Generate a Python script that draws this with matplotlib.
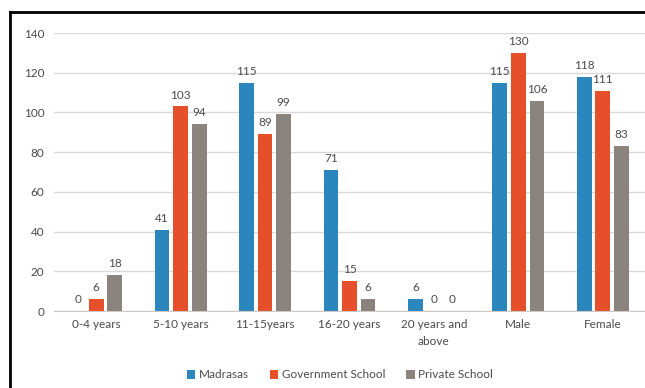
import numpy as np
import matplotlib.pyplot as plt
from matplotlib.lines import Line2D

plt.rcParams['font.family'] = ['Lato', 'DejaVu Sans']

# data
categories = ['0-4 years', '5-10 years', '11-15years', '16-20 years',
              '20 years and\nabove', 'Male', 'Female']
madrasas = [0, 41, 115, 71, 6, 115, 118]
government = [6, 103, 89, 15, 0, 130, 111]
private = [18, 94, 99, 6, 0, 106, 83]
series_names = ['Madrasas', 'Government School', 'Private School']
colors = ['#2a86bd', '#e5502a', '#8b837e']
yticks = [0, 20, 40, 60, 80, 100, 120, 140]

fig = plt.figure(figsize=(6.45, 3.88), dpi=100)
ax = fig.add_axes([54/645, 1 - 311/388, 1 - 54/645, (311 - 33)/388])

x = np.arange(len(categories))
width = 0.175
offsets = [-0.22, 0, 0.22]
text_color = '#4a4a4a'

for vals, off, col, name in zip([madrasas, government, private], offsets, colors, series_names):
    bars = ax.bar(x + off, vals, width, color=col, label=name, zorder=3)
    for b, v in zip(bars, vals):
        ax.text(b.get_x() + b.get_width()/2, v + 3, str(v), ha='center', va='bottom',
                fontsize=8.5, color=text_color)

ax.set_xlim(-0.5, len(categories) - 0.5)
ax.set_ylim(0, 140)
ax.set_yticks(yticks)
ax.set_xticks(x)
ax.set_xticklabels(categories, fontsize=8.5, color=text_color, linespacing=1.6)
ax.tick_params(axis='y', labelsize=8.5, colors=text_color, length=0, pad=7)
ax.tick_params(axis='x', length=0, pad=6)
ax.grid(axis='y', color='#d9d9d9', linewidth=1, zorder=0)
for s in ['top', 'right', 'left']:
    ax.spines[s].set_visible(False)
ax.spines['bottom'].set_color('#d0c8c4')
ax.spines['bottom'].set_zorder(4)

leg = fig.legend(loc='center', bbox_to_anchor=(340/645, 1 - 375/388), ncol=3, frameon=False,
                 fontsize=8.5, handlelength=0.7, handleheight=0.7, handletextpad=0.3,
                 columnspacing=1.8)
for t in leg.get_texts():
    t.set_color(text_color)

# outer frame (left and top edges visible)
fig.add_artist(Line2D([10/645, 10/645], [0, 1 - 12/388], color='black', linewidth=2,
                      transform=fig.transFigure))
fig.add_artist(Line2D([10/645, 1], [1 - 12/388, 1 - 12/388], color='black', linewidth=2,
                      transform=fig.transFigure))

fig.savefig('out.png', dpi=100)
